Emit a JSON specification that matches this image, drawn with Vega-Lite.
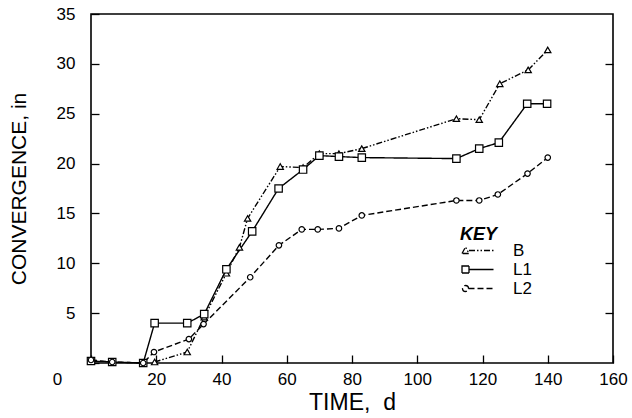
{
  "$schema": "https://vega.github.io/schema/vega-lite/v6.json",
  "width": 522,
  "height": 349,
  "autosize": {"type": "none"},
  "padding": {"left": 91, "top": 14, "right": 19, "bottom": 55},
  "background": "white",
  "config": {
    "font": "Liberation Sans",
    "view": {"stroke": "black", "strokeWidth": 1.6},
    "axis": {"grid": false, "domain": false, "labelColor": "black", "titleColor": "black", "tickColor": "black", "tickWidth": 1.3}
  },
  "data": {
    "values": [
      {"series": "L1", "t": 0, "v": 0.2},
      {"series": "L1", "t": 6.5, "v": 0.1},
      {"series": "L1", "t": 16, "v": 0.0},
      {"series": "L1", "t": 19.5, "v": 4.0},
      {"series": "L1", "t": 29.5, "v": 4.0},
      {"series": "L1", "t": 34.7, "v": 4.9},
      {"series": "L1", "t": 41.5, "v": 9.4},
      {"series": "L1", "t": 49.4, "v": 13.2},
      {"series": "L1", "t": 57.5, "v": 17.5},
      {"series": "L1", "t": 65, "v": 19.4},
      {"series": "L1", "t": 70, "v": 20.8},
      {"series": "L1", "t": 76, "v": 20.7},
      {"series": "L1", "t": 83, "v": 20.6},
      {"series": "L1", "t": 112, "v": 20.5},
      {"series": "L1", "t": 119, "v": 21.5},
      {"series": "L1", "t": 125, "v": 22.1},
      {"series": "L1", "t": 133.7, "v": 26.0},
      {"series": "L1", "t": 139.8, "v": 26.0},
      {"series": "L2", "t": 0, "v": 0.3},
      {"series": "L2", "t": 6.5, "v": 0.1},
      {"series": "L2", "t": 16, "v": 0.0},
      {"series": "L2", "t": 19.3, "v": 1.1},
      {"series": "L2", "t": 30, "v": 2.4},
      {"series": "L2", "t": 34.5, "v": 3.9},
      {"series": "L2", "t": 48.8, "v": 8.6},
      {"series": "L2", "t": 57.6, "v": 11.8},
      {"series": "L2", "t": 64.6, "v": 13.4},
      {"series": "L2", "t": 69.5, "v": 13.4},
      {"series": "L2", "t": 76, "v": 13.5},
      {"series": "L2", "t": 83, "v": 14.8},
      {"series": "L2", "t": 112, "v": 16.3},
      {"series": "L2", "t": 119, "v": 16.3},
      {"series": "L2", "t": 124.7, "v": 16.9},
      {"series": "L2", "t": 133.8, "v": 19.0},
      {"series": "L2", "t": 140, "v": 20.6},
      {"series": "B", "t": 19.5, "v": 0.1},
      {"series": "B", "t": 29.5, "v": 1.1},
      {"series": "B", "t": 34.7, "v": 4.6},
      {"series": "B", "t": 41.5, "v": 9.0},
      {"series": "B", "t": 45.5, "v": 11.6},
      {"series": "B", "t": 48, "v": 14.5},
      {"series": "B", "t": 58, "v": 19.7},
      {"series": "B", "t": 65, "v": 19.6},
      {"series": "B", "t": 70, "v": 21.0},
      {"series": "B", "t": 76, "v": 21.0},
      {"series": "B", "t": 83, "v": 21.5},
      {"series": "B", "t": 112, "v": 24.5},
      {"series": "B", "t": 119, "v": 24.4},
      {"series": "B", "t": 125.3, "v": 28.0},
      {"series": "B", "t": 134, "v": 29.4},
      {"series": "B", "t": 140, "v": 31.4}
    ]
  },
  "layer": [
    {
      "mark": {"type": "line", "color": "black", "strokeWidth": 1.4},
      "encoding": {
        "x": {
          "field": "t", "type": "quantitative",
          "scale": {"domain": [0, 160], "nice": false, "zero": false},
          "axis": {
            "values": [0, 20, 40, 60, 80, 100, 120, 140, 160],
            "title": "TIME,\u00a0\u00a0d", "titleFontSize": 23, "titleFontWeight": "normal", "titlePadding": 4,
            "labelFontSize": 17, "labelPadding": 16, "labelFlush": false, "tickSize": -8,
            "labelOffset": {"condition": {"test": "datum.value === 0", "value": -34}, "value": 0}
          }
        },
        "y": {
          "field": "v", "type": "quantitative",
          "scale": {"domain": [0, 35], "nice": false, "zero": false},
          "axis": {
            "values": [0, 5, 10, 15, 20, 25, 30, 35],
            "labelExpr": "datum.value === 0 ? '' : datum.label",
            "title": "CONVERGENCE, in", "titleFontSize": 21, "titleFontWeight": "normal", "titlePadding": 27,
            "labelFontSize": 17, "labelPadding": 24, "tickSize": -8
          }
        },
        "strokeDash": {
          "field": "series", "type": "nominal",
          "scale": {"domain": ["B", "L1", "L2"], "range": [[6, 2, 1.5, 2, 1.5, 2], [1, 0], [6, 3]]},
          "legend": {
            "title": "KEY", "orient": "none", "legendX": 369, "legendY": 212,
            "titleFontSize": 18, "titleFontStyle": "italic", "titleFontWeight": "bold", "titleColor": "black",
            "labelFontSize": 17, "labelColor": "black",
            "symbolSize": 100, "symbolOffset": 10, "labelOffset": 26, "rowPadding": 1, "titlePadding": -2, "padding": 0,
            "symbolStrokeColor": "black", "symbolStrokeWidth": 1.3, "symbolFillColor": "transparent",
            "encode": {"symbols": {"update": {"shape": {"signal": "datum.value === 'B' ? 'M -1.9 0 L 3 0 M -3.3 0.6 L -2.6 -0.7 L -1.9 0.6 Z' : datum.value === 'L1' ? 'M -1.9 0 L 3 0 M -3.3 -0.7 L -1.9 -0.7 L -1.9 0.7 L -3.3 0.7 Z' : 'M -2 0 L 3 0 M -3.2 0 A 0.6 0.6 0 1 0 -2 0 A 0.6 0.6 0 1 0 -3.2 0 Z'"}}}}
          }
        }
      }
    },
    {
      "encoding": {
        "x": {"field": "t", "type": "quantitative", "scale": {"domain": [0, 160], "nice": false, "zero": false}},
        "y": {
          "field": "v", "type": "quantitative",
          "scale": {"domain": [0, 35], "nice": false, "zero": false},
          "axis": {"orient": "right", "values": [5, 10, 15, 20, 25, 30], "labels": false, "title": null, "tickSize": -8}
        }
      },
      "layer": [
        {
          "transform": [{"filter": "datum.series === 'B'"}],
          "mark": {"type": "point", "shape": "triangle-up", "size": 40, "filled": true, "fill": "white", "stroke": "black", "strokeWidth": 1.2, "opacity": 1}
        },
        {
          "transform": [{"filter": "datum.series === 'L1'"}],
          "mark": {"type": "point", "shape": "square", "size": 55, "filled": true, "fill": "white", "stroke": "black", "strokeWidth": 1.2, "opacity": 1}
        },
        {
          "transform": [{"filter": "datum.series === 'L2'"}],
          "mark": {"type": "point", "shape": "circle", "size": 30, "filled": true, "fill": "white", "stroke": "black", "strokeWidth": 1.2, "opacity": 1}
        }
      ]
    }
  ],
  "resolve": {"scale": {"y": "independent"}}
}
